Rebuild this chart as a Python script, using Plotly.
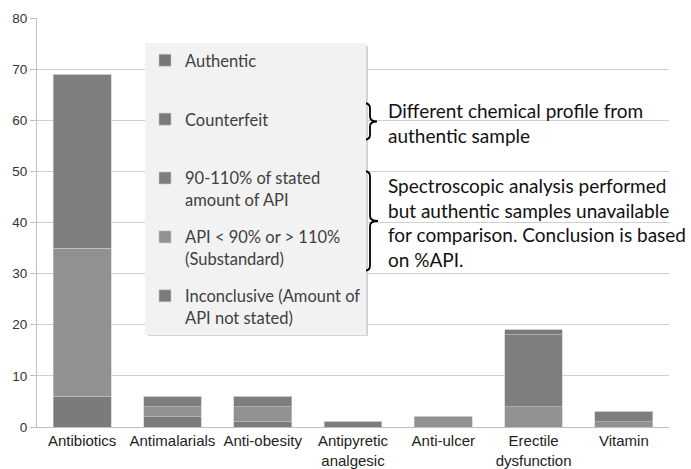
import plotly.graph_objects as go

categories = ["Antibiotics", "Antimalarials", "Anti-obesity", "Antipyretic<br>analgesic",
              "Anti-ulcer", "Erectile<br>dysfunction", "Vitamin"]
inconclusive = [6, 2, 1, 0, 0, 0, 0]
substandard = [29, 2, 3, 0, 2, 4, 1]
api_ok = [34, 2, 2, 1, 0, 14, 2]
counterfeit = [0, 0, 0, 0, 0, 1, 0]
authentic = [0, 0, 0, 0, 0, 0, 0]

series = [
    ("Inconclusive (Amount of<br>API not stated)", inconclusive, "#7b7b7b", 5),
    ("API < 90% or > 110%<br>(Substandard)", substandard, "#919191", 4),
    ("90-110% of stated<br>amount of API", api_ok, "#7e7e7e", 3),
    ("Counterfeit<br> ", counterfeit, "#7a7a7a", 2),
    ("Authentic<br> ", authentic, "#777777", 1),
]

W, H = 691, 469
L, R, T, B = 37, 669, 18, 427


def px(x):
    return (x - L) / (R - L)


def py(y):
    return (B - y) / (B - T)


fig = go.Figure()
for name, vals, col, rank in series:
    fig.add_trace(go.Bar(x=categories, y=vals, name=name, legendgroup=name, legendrank=rank,
                         marker=dict(color=col, line=dict(color="#c8c8c8", width=0.6)),
                         width=0.64))


def bracket(x0, ytop, ybot, xtip):
    ym = (ytop + ybot) / 2
    xm = x0 + 7
    r = 5
    pts = (f"M {px(x0)},{py(ytop)} Q {px(xm)},{py(ytop)} {px(xm)},{py(ytop + r)} "
           f"L {px(xm)},{py(ym - r)} Q {px(xm)},{py(ym)} {px(xtip)},{py(ym)} "
           f"Q {px(xm)},{py(ym)} {px(xm)},{py(ym + r)} "
           f"L {px(xm)},{py(ybot - r)} Q {px(xm)},{py(ybot)} {px(x0)},{py(ybot)}")
    return dict(type="path", xref="paper", yref="paper", path=pts,
                line=dict(color="black", width=1.8))


shapes = [
    dict(type="rect", xref="paper", yref="paper", x0=px(148), x1=px(368), y0=py(46), y1=py(336),
         fillcolor="#d4d4d4", line=dict(width=0), layer="above"),
    bracket(363, 103, 140, 377),
    bracket(363, 171, 271, 378),
]

annotations = [
    dict(x=px(386), y=py(123), xref="paper", yref="paper", xanchor="left", yanchor="middle",
         align="left", showarrow=False,
         text="Different chemical profile from<br>authentic sample",
         font=dict(family="Lato", size=19, color="#111")),
    dict(x=px(386), y=py(222), xref="paper", yref="paper", xanchor="left", yanchor="middle",
         align="left", showarrow=False,
         text="Spectroscopic analysis performed<br>but authentic samples unavailable<br>"
              "for comparison. Conclusion is based<br>on %API.",
         font=dict(family="Lato", size=19, color="#111")),
]

fig.update_layout(
    width=W, height=H,
    margin=dict(l=L, r=W - R, t=T, b=H - B, autoexpand=False),
    barmode="stack",
    plot_bgcolor="white", paper_bgcolor="white",
    showlegend=True,
    legend=dict(x=px(145), y=py(43), xanchor="left", yanchor="top",
                bgcolor="#f2f2f2", borderwidth=0,
                traceorder="grouped", tracegroupgap=13, valign="top",
                font=dict(family="Lato", size=16.5, color="#404040")),
    shapes=shapes,
    annotations=annotations,
    xaxis=dict(showline=True, linecolor="#bfbfbf", linewidth=1, ticks="", automargin=False,
               tickfont=dict(family="Liberation Sans", size=15, color="#222")),
    yaxis=dict(range=[0, 80], dtick=10, showgrid=True, gridcolor="#d0d0d0", gridwidth=1,
               showline=True, linecolor="#bfbfbf", linewidth=1, automargin=False,
               ticks="outside", ticklen=6, tickcolor="#bfbfbf", zeroline=False,
               tickfont=dict(family="Liberation Sans", size=13.5, color="#333")),
    font=dict(family="Liberation Sans"),
)

fig.write_html("out.html", config={"displayModeBar": False},
               post_script="document.body.style.margin='0';document.body.style.overflow='hidden';")
